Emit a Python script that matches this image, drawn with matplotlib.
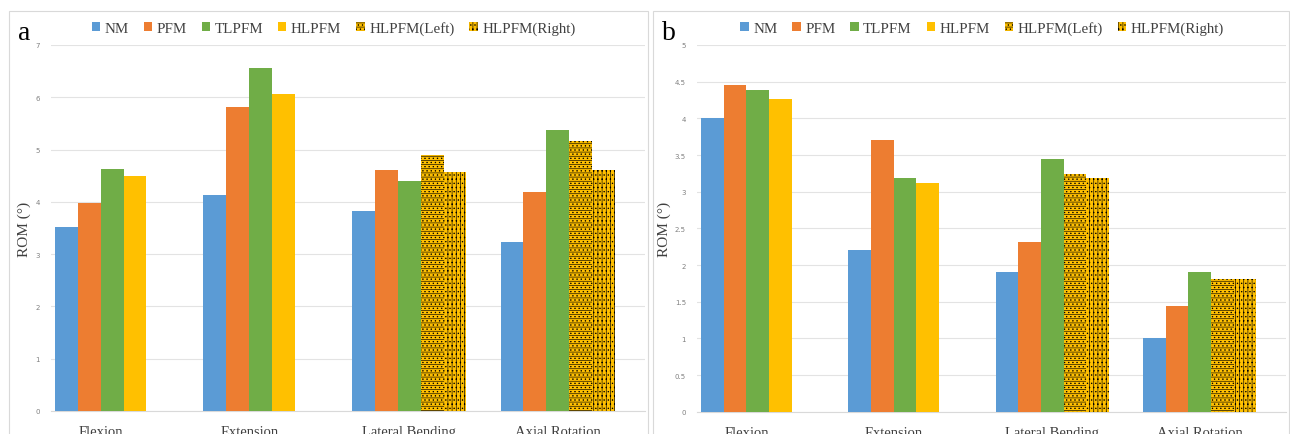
import numpy as np
import matplotlib
matplotlib.use('Agg')
import matplotlib.pyplot as plt
from matplotlib.patches import Rectangle


# ----------[data]----------

categories = ['Flexion', 'Extension', 'Lateral Bending', 'Axial Rotation']
series = ['NM', 'PFM', 'TLPFM', 'HLPFM', 'HLPFM(Left)', 'HLPFM(Right)']
nan = np.nan

a_nm = [3.52, 4.13, 3.82, 3.23]
a_pfm = [3.98, 5.81, 4.61, 4.19]
a_tlpfm = [4.63, 6.56, 4.40, 5.37]
a_hlpfm = [4.49, 6.06, nan, nan]
a_left = [nan, nan, 4.89, 5.16]
a_right = [nan, nan, 4.57, 4.61]

b_nm = [4.00, 2.20, 1.90, 1.00]
b_pfm = [4.46, 3.71, 2.31, 1.44]
b_tlpfm = [4.38, 3.18, 3.45, 1.91]
b_hlpfm = [4.27, 3.12, nan, nan]
b_left = [nan, nan, 3.24, 1.81]
b_right = [nan, nan, 3.19, 1.81]

a_ticks = [0, 1, 2, 3, 4, 5, 6, 7]
b_ticks = [0, 0.5, 1, 1.5, 2, 2.5, 3, 3.5, 4, 4.5, 5]


# ----------[style]----------

colors = ['#5B9BD5', '#ED7D31', '#70AD47', '#FFC000', '#FFC000', '#FFC000']
hatches = [None, None, None, None, '----....', '||||....']
slots = [0, 1, 2, 3, 3, 4]    # position of each series inside a category
W = 0.154
OFF = 0.028
serif = 'Liberation Serif'
plt.rcParams['hatch.linewidth'] = 0.45


def draw_panel(ax, data, ticks, legend_x):
    for k, vals in enumerate(data):
        vals = np.array(vals, dtype=float)
        x = np.arange(len(categories)) + OFF + slots[k] * W
        ok = ~np.isnan(vals)
        ax.bar(x[ok], vals[ok], width=W, align='edge', color=colors[k],
               hatch=hatches[k], edgecolor='black' if hatches[k] else colors[k],
               linewidth=0, label=series[k], zorder=3)

    # category label sits under the middle of its bars
    n_bars = np.sum(~np.isnan(np.array(data, dtype=float)), axis=0)
    centers = np.arange(len(categories)) + OFF + n_bars * W / 2
    ax.set_xticks(centers)
    ax.set_xticklabels(categories, family=serif, size=10.5, color='#404040')
    ax.tick_params(axis='x', length=0, pad=10)

    ax.set_xlim(0, len(categories))
    ax.set_ylim(0, ticks[-1])
    ax.set_yticks(ticks)
    ax.set_yticklabels(['%g' % t for t in ticks], size=5, color='#808080')
    ax.tick_params(axis='y', length=0, pad=8)
    ax.grid(axis='y', color='#E3E3E3', linewidth=0.8, zorder=0)
    for s in ['top', 'right', 'left']:
        ax.spines[s].set_visible(False)
    ax.spines['bottom'].set_color('#D9D9D9')
    ax.spines['bottom'].set_linewidth(0.8)

    ax.set_ylabel('ROM (°)', family=serif, size=11, color='#404040', labelpad=3)

    ax.legend(loc='center', bbox_to_anchor=(legend_x, 1.046), ncol=6, frameon=False,
              prop={'family': serif, 'size': 10.8}, handlelength=0.55,
              handleheight=0.55, handletextpad=0.3, columnspacing=1.0,
              labelcolor='#404040', borderaxespad=0)


fig = plt.figure(figsize=(12.9, 4.35), dpi=100)

# light frames around each panel
fig.patches.append(Rectangle((9 / 1290, -0.1), 639 / 1290, 1.1 - 12 / 435,
                             transform=fig.transFigure, fill=False,
                             edgecolor='#D9D9D9', linewidth=0.8))
fig.patches.append(Rectangle((653 / 1290, -0.1), 636 / 1290, 1.1 - 12 / 435,
                             transform=fig.transFigure, fill=False,
                             edgecolor='#D9D9D9', linewidth=0.8))

ax_a = fig.add_axes([50.7 / 1290, 23 / 435, 594.3 / 1290, 366 / 435])
draw_panel(ax_a, [a_nm, a_pfm, a_tlpfm, a_hlpfm, a_left, a_right], a_ticks, 0.476)

ax_b = fig.add_axes([697 / 1290, 22.3 / 435, 589 / 1290, 366.7 / 435])
draw_panel(ax_b, [b_nm, b_pfm, b_tlpfm, b_hlpfm, b_left, b_right], b_ticks, 0.484)

fig.text(18 / 1290, 1 - 33 / 435, 'a', family=serif, size=20, ha='left', va='center')
fig.text(662 / 1290, 1 - 33 / 435, 'b', family=serif, size=20, ha='left', va='center')

fig.savefig('out.png', dpi=100)
